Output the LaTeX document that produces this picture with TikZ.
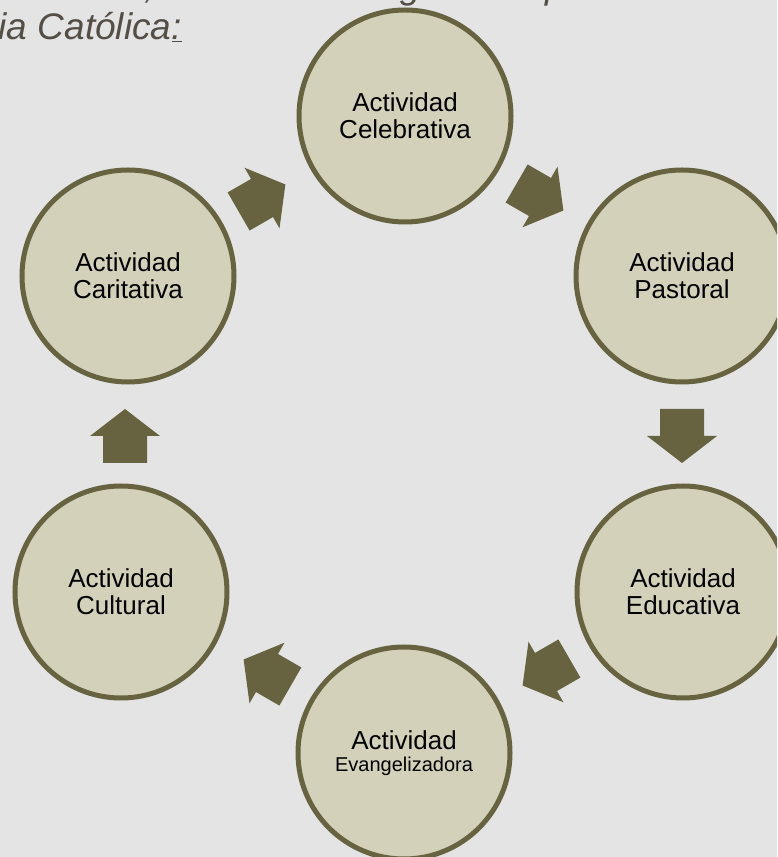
\documentclass[tikz,border=0pt]{standalone}
\usepackage{fontspec}
\setmainfont{Liberation Sans}
\definecolor{bgcol}{RGB}{228,228,228}
\definecolor{circfill}{RGB}{211,209,186}
\definecolor{olivecol}{RGB}{103,99,64}
\definecolor{titlecol}{RGB}{84,78,70}
\begin{document}
\begin{tikzpicture}[x=1pt,y=1pt,
  act/.style={circle, draw=olivecol, line width=5pt, fill=circfill,
    minimum size=212pt, inner sep=0pt, align=center,
    font=\fontsize{26}{27}\selectfont, text=black},
  blockarrow/.pic={\fill[olivecol] (-27,-22) -- (0,-22) -- (0,-35) -- (27,0)
    -- (0,35) -- (0,22) -- (-27,22) -- cycle;},
  titletext/.style={inner sep=0pt, text=titlecol,
    font=\fontsize{37}{40}\selectfont\itshape}]
\fill[bgcol] (0,0) rectangle (777,857);
\useasboundingbox (0,0) rectangle (777,857);
\clip (0,0) rectangle (777,857);
% cut-off text line above
\node[titletext, anchor=base] (t0a) at (150,858) {,};
\node[titletext, anchor=base] (t0b) at (411,858) {g};
\node[titletext, anchor=base] (t0c) at (556,858) {p};
% title fragment
\node[titletext, anchor=base east] (title) at (182,817) {ia Católica\underline{:}};
% circles
\node[act] (cel) at (405,741) {Actividad\\Celebrativa};
\node[act] (pas) at (682,581) {Actividad\\Pastoral};
\node[act] (edu) at (683,265) {Actividad\\Educativa};
\node[act] (eva) at (404,104) {Actividad\\[-5pt]{\fontsize{20}{22}\selectfont Evangelizadora}};
\node[act] (cul) at (121,265) {Actividad\\Cultural};
\node[act] (car) at (128,581) {Actividad\\Caritativa};
% arrows
\pic[rotate=-30] at (540,660) {blockarrow};
\pic[rotate=-90] at (682,421) {blockarrow};
\pic[rotate=210] at (546,185) {blockarrow};
\pic[rotate=150] at (267,184) {blockarrow};
\pic[rotate=90] at (125,421) {blockarrow};
\pic[rotate=30] at (262,659) {blockarrow};
\end{tikzpicture}
\end{document}
